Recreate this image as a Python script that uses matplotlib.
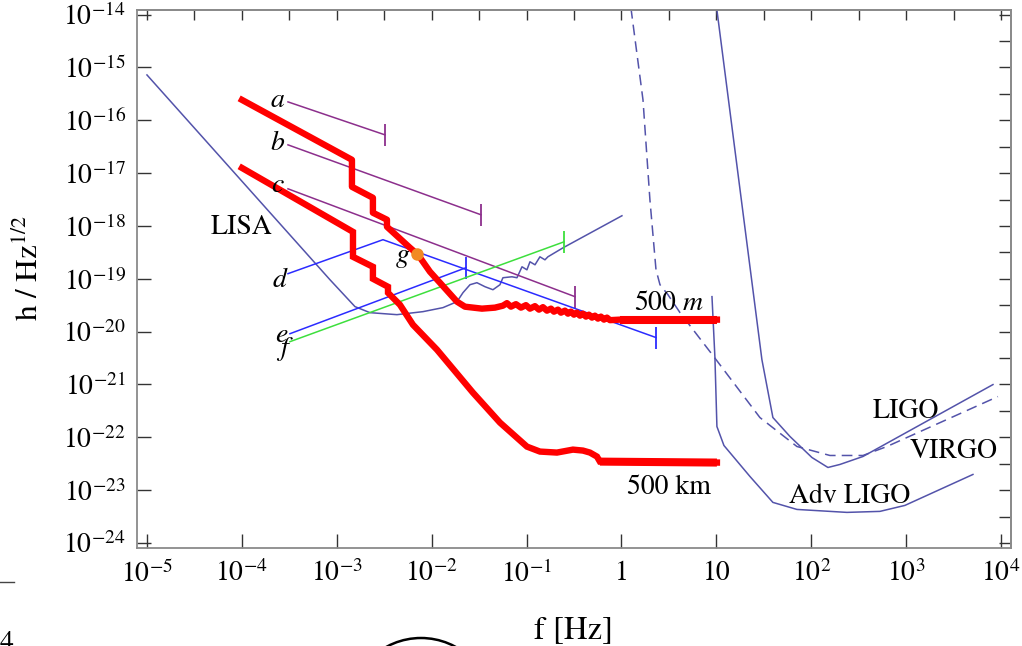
import matplotlib.pyplot as plt
import numpy as np
from matplotlib.lines import Line2D
from matplotlib.patches import Circle

plt.rcParams['font.family'] = ['STIXGeneral', 'DejaVu Serif']
plt.rcParams['mathtext.fontset'] = 'stix'

# all curves are stored as log10(f / Hz) and log10(h / Hz^1/2)
lisa_lf = [-5.0, -3.072, -2.808, -2.650, -2.366, -2.092, -1.881, -1.733, -1.670, -1.596,
           -1.523, -1.438, -1.354, -1.280, -1.249, -1.154, -1.101, -1.048, -0.996, -0.964,
           -0.911, -0.859, -0.806, -0.775, -0.616, 0.005]
lisa_lh = [-15.142, -19.017, -19.527, -19.641, -19.679, -19.622, -19.546, -19.433, -19.263, -19.112,
           -19.074, -19.150, -19.207, -19.112, -18.980, -18.962, -18.980, -18.773, -18.830, -18.678,
           -18.735, -18.584, -18.641, -18.584, -18.414, -17.807]

ligo_lf = [1.006, 1.480, 1.596, 1.776, 2.007, 2.176, 2.302, 2.545, 3.915]
ligo_lh = [-13.913, -20.529, -21.626, -21.985, -22.382, -22.571, -22.514, -22.363, -21.002]

advligo_lf = [0.954, 0.985, 1.006, 1.080, 1.354, 1.596, 1.849, 2.376, 2.724, 2.987, 3.704]
advligo_lh = [-19.338, -20.491, -21.796, -22.155, -22.741, -23.232, -23.365, -23.421, -23.402, -23.289, -22.703]

virgo_lf = [0.100, 0.227, 0.300, 0.364, 0.406, 0.490, 0.617, 0.965, 1.459, 1.849, 2.197, 2.545, 2.798, 3.967]
virgo_lh = [-13.875, -15.614, -17.505, -18.828, -19.112, -19.301, -19.641, -20.454, -21.626, -22.174,
            -22.344, -22.344, -22.174, -21.229]

# detector with 500 m arms
short_lf = [-3.999, -2.840, -2.840, -2.619, -2.619, -2.471, -2.471, -2.229, -2.144, -2.018,
            -1.913, -1.733, -1.649, -1.470, -1.333, -1.249,
            -1.2065, -1.1644, -1.1117, -1.0590, -1.0063, -0.9642, -0.9115, -0.8694, -0.8272, -0.7850,
            -0.7429, -0.7113, -0.6691, -0.6375, -0.5954, -0.5638, -0.5321, -0.5005, -0.4689, -0.4373,
            -0.4057, -0.3741, -0.3425, -0.3109, -0.2793, -0.2476, -0.2160, -0.1844, -0.1528, -0.1212,
            -0.0158, 1.006]
short_lh = [-15.614, -16.748, -17.259, -17.467, -17.750, -17.882, -18.015, -18.412, -18.544, -18.866,
            -19.074, -19.433, -19.528, -19.565, -19.546, -19.509,
            -19.461, -19.527, -19.480, -19.546, -19.499, -19.565, -19.518, -19.584, -19.537, -19.603,
            -19.565, -19.622, -19.584, -19.641, -19.603, -19.660, -19.622, -19.679, -19.641, -19.698,
            -19.660, -19.716, -19.679, -19.735, -19.698, -19.754, -19.716, -19.773, -19.735, -19.783,
            -19.773, -19.773]

# detector with 500 km arms
long_lf = [-3.999, -2.829, -2.829, -2.619, -2.619, -2.460, -2.460, -2.334, -2.197, -1.944,
           -1.565, -1.280, -0.996, -0.859, -0.680, -0.511, -0.406, -0.332, -0.258, -0.227, 1.006]
long_lh = [-16.902, -18.112, -18.584, -18.773, -19.000, -19.151, -19.265, -19.492, -19.870, -20.342,
           -21.155, -21.722, -22.176, -22.270, -22.289, -22.233, -22.251, -22.289, -22.365, -22.460, -22.478]

# sources a-f: start point, optional knee, end point (end marked with a bar)
src_names = ['a', 'b', 'c', 'd', 'e', 'f']
src_lf = [[-3.514, -2.492], [-3.514, -1.481], [-3.514, -0.490],
          [-3.514, -2.513, 0.364], [-3.493, -1.639], [-3.493, -0.606]]
src_lh = [[-15.652, -16.276], [-16.465, -17.788], [-17.297, -19.338],
          [-18.903, -18.260, -20.112], [-20.039, -18.791], [-20.190, -18.301]]
src_colors = ['#8c2f8c', '#8c2f8c', '#8c2f8c', '#2b2bff', '#2b2bff', '#3ddf3d']

g_lf, g_lh = -2.155, -18.525

x_tick_exp = [-5, -4, -3, -2, -1, 0, 1, 2, 3, 4]
x_tick_labels = ['$10^{-5}$', '$10^{-4}$', '$10^{-3}$', '$10^{-2}$', '$10^{-1}$', '1', '10',
                 '$10^{2}$', '$10^{3}$', '$10^{4}$']
y_tick_exp = list(range(-24, -13))

slate = '#5353aa'
red = '#ff0000'

fig = plt.figure(figsize=(10.22, 6.46), dpi=100)
ax = fig.add_axes([137 / 1022, 98 / 646, 874 / 1022, 538 / 646])
ax.set_xscale('log')
ax.set_yscale('log')
ax.set_xlim(10 ** -5.105, 10 ** 4.105)
ax.set_ylim(10 ** -24.095, 10 ** -13.913)

def p(v):
    return 10 ** np.asarray(v, dtype=float)

ax.plot(p(lisa_lf), p(lisa_lh), color=slate, lw=1.1)
ax.plot(p(ligo_lf), p(ligo_lh), color=slate, lw=1.1)
ax.plot(p(advligo_lf), p(advligo_lh), color=slate, lw=1.1)
ax.plot(p(virgo_lf), p(virgo_lh), color=slate, lw=1.1, dashes=(7, 4))

# label anchors (right edge, baseline) for the source letters
lab_pos = [(-3.556, -15.747), (-3.556, -16.560), (-3.556, -17.355),
           (-3.535, -19.150), (-3.514, -20.189), (-3.514, -20.435)]
for name, lf, lh, c, (lx, ly) in zip(src_names, src_lf, src_lh, src_colors, lab_pos):
    ax.plot(p(lf), p(lh), color=c, lw=1.1)
    ax.plot(p(lf[-1]), p(lh[-1]), marker='|', ms=16, mew=1.3, color=c)
    ax.text(p(lx), p(ly), name, fontsize=20, style='italic', ha='right', va='baseline')

ax.plot(p(short_lf), p(short_lh), color=red, lw=4.6, solid_joinstyle='round')
ax.plot(p(long_lf), p(long_lh), color=red, lw=4.6, solid_joinstyle='miter')
# the high-frequency plateaus are drawn a little heavier
ax.plot(p(short_lf[-2:]), p(short_lh[-2:]), color=red, lw=5.8, solid_capstyle='butt')
ax.plot(p(long_lf[-2:]), p(long_lh[-2:]), color=red, lw=5.8, solid_capstyle='butt')

ax.plot(p(g_lf), p(g_lh), 'o', ms=9, color='#f28a22', mec='none', zorder=5)
ax.text(p(-2.229), p(-18.677), 'g', fontsize=20, style='italic', ha='right', va='baseline')

ax.text(p(-4.0), p(-18.03), 'LISA', fontsize=20, ha='center', va='center')
ax.text(p(0.50), p(-19.47), '500 $m$', fontsize=20, ha='center', va='center')
ax.text(p(0.50), p(-22.95), '500 km', fontsize=20, ha='center', va='center')
ax.text(p(3.0), p(-21.51), 'LIGO', fontsize=20, ha='center', va='center')
ax.text(p(3.50), p(-22.27), 'VIRGO', fontsize=20, ha='center', va='center')
ax.text(p(2.41), p(-23.12), 'Adv LIGO', fontsize=20, ha='center', va='center')

# bottom/left: decade ticks with labels
ax.set_xticks(p(x_tick_exp))
ax.set_xticklabels(x_tick_labels)
ax.set_yticks(p(y_tick_exp))
ax.set_yticklabels(['$10^{%d}$' % e for e in y_tick_exp])
ax.xaxis.set_minor_locator(plt.NullLocator())
ax.yaxis.set_minor_locator(plt.NullLocator())
ax.tick_params(which='major', direction='in', length=10, width=1, color='#333333',
               labelsize=20, top=False, right=False)
ax.tick_params(axis='x', pad=9)
ax.tick_params(axis='y', pad=8)

# top/right: half-decade ticks, no labels
top = ax.secondary_xaxis('top')
top.set_xticks(p(np.arange(-5, 4.01, 0.5)))
top.xaxis.set_minor_locator(plt.NullLocator())
top.tick_params(direction='in', length=7, width=1, color='#333333', labeltop=False)
right = ax.secondary_yaxis('right')
right.set_yticks(p(np.arange(-24, -13.99, 0.5)))
right.yaxis.set_minor_locator(plt.NullLocator())
right.tick_params(direction='in', length=9, width=1, color='#333333', labelright=False)

for axis in (ax, top, right):
    for s in axis.spines.values():
        s.set_color('#8a8a8a')
        s.set_linewidth(1.3)

fig.text(29 / 1022, 1 - 268 / 646, 'h / Hz$^{1/2}$', rotation=90, fontsize=22.5,
         ha='center', va='center')
fig.text(573 / 1022, 8 / 646, 'f [Hz]', fontsize=23.5, ha='center', va='baseline')

# bits of the surrounding page
fig.add_artist(Line2D([0, 14 / 1022], [1 - 582 / 646] * 2, color='#444444', lw=1))
fig.text(0.0, -4 / 646, '4', fontsize=20, ha='left', va='baseline')
fig.add_artist(Circle((4.21, -0.64), 0.72, transform=fig.dpi_scale_trans,
                      fill=False, lw=1.8, color='black', clip_on=False))

fig.savefig('out.png', dpi=100)
